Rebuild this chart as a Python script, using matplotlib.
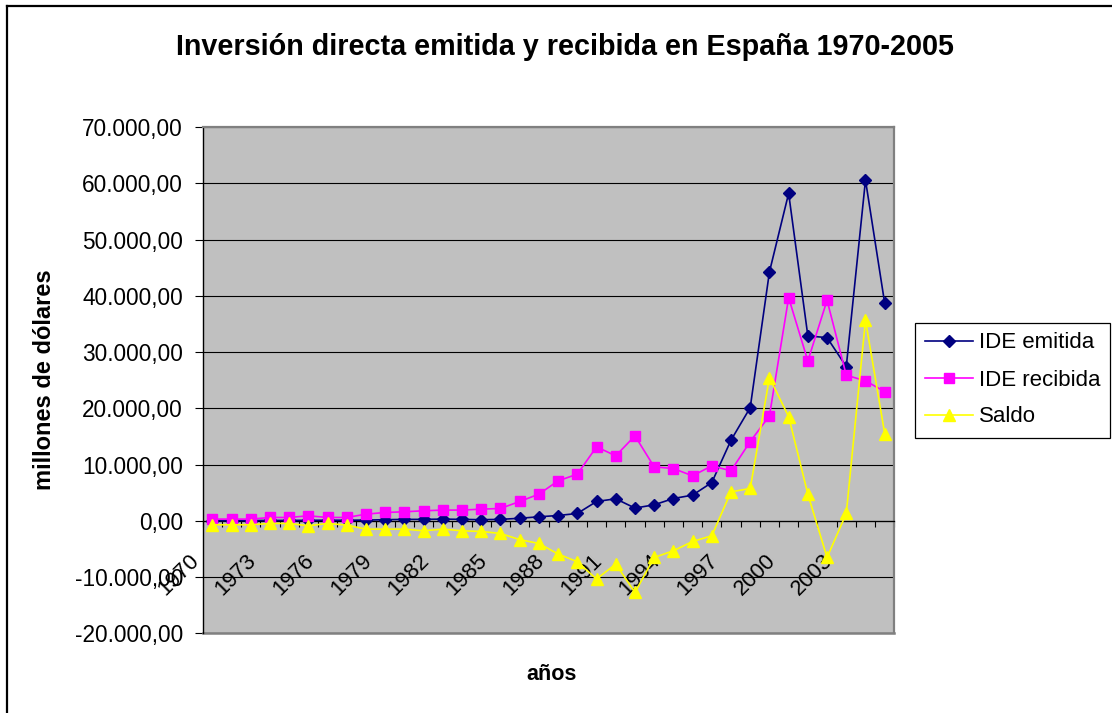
import matplotlib
matplotlib.use("Agg")
import matplotlib.pyplot as plt
import numpy as np
from matplotlib.transforms import ScaledTranslation
from matplotlib.lines import Line2D

plt.rcParams['font.family'] = ['Liberation Sans', 'DejaVu Sans']

years = list(range(1970, 2006))
ide_emitida = [30, 40, 50, 60, 70, 80, 100, 100, 120, 200,
               250, 250, 300, 250, 200, 250, 450, 710, 940, 1300,
               3430, 3910, 2260, 2840, 3960, 4560, 6800, 14330, 20120, 44230,
               58210, 32860, 32560, 27410, 60570, 38670]
ide_recibida = [300, 300, 300, 590, 590, 890, 590, 590, 1180, 1480,
                1600, 1780, 1900, 1900, 2070, 2190, 3430, 4740, 7100, 8290,
                13140, 11550, 15100, 9590, 9290, 7990, 9770, 8880, 14090, 18650,
                39660, 28420, 39200, 25880, 24870, 22970]
saldo = [-710, -710, -710, -470, -470, -890, -470, -770, -1480, -1480,
         -1480, -1780, -1480, -1780, -1900, -2250, -3350, -4030, -5910, -7280,
         -10360, -7690, -12740, -6520, -5330, -3680, -2660, 5150, 5740, 25450,
         18530, 4740, -6520, 1300, 35650, 15510]
tick_years = years[::3]
series_names = ["IDE emitida", "IDE recibida", "Saldo"]
y_ticks = list(range(-20000, 70001, 10000))

W, H = 1112, 713
fig = plt.figure(figsize=(W / 100, H / 100), dpi=100)
fig.patch.set_facecolor('white')

# outer chart border
fig.add_artist(Line2D([7 / W, 1.0], [1 - 6 / H, 1 - 6 / H], color='black', lw=1.6))
fig.add_artist(Line2D([7 / W, 7 / W], [1 - 6 / H, 0.0], color='black', lw=1.6))

left, right, top, bottom = 202.7, 894.3, 127.0, 633.3
ax = fig.add_axes([left / W, 1 - bottom / H, (right - left) / W, (bottom - top) / H])
ax.set_facecolor('#C0C0C0')

# spines first (set_position resets ticks)
ax.spines['bottom'].set_position(('data', 0))
ax.spines['bottom'].set_color('black')
ax.spines['bottom'].set_linewidth(0.9)
ax.spines['left'].set_color('black')
ax.spines['left'].set_linewidth(1.0)
for s in ['top', 'right']:
    ax.spines[s].set_color('#808080')
    ax.spines[s].set_linewidth(1.6)
ax.add_artist(Line2D([0, 1], [0, 0], transform=ax.transAxes, color='#808080', lw=1.8, clip_on=False))

x = np.arange(len(years))
ax.plot(x, ide_emitida, color='#000080', lw=1.2, marker='D', ms=6.2,
        mfc='#000080', mec='#000080', label=series_names[0], zorder=3)
ax.plot(x, ide_recibida, color='#FF00FF', lw=1.2, marker='s', ms=7.4,
        mfc='#FF00FF', mec='#FF00FF', label=series_names[1], zorder=3)
ax.plot(x, saldo, color='#FFFF00', lw=1.2, marker='^', ms=8.8,
        mfc='#FFFF00', mec='#FFFF00', label=series_names[2], zorder=3)

ax.set_xlim(-0.5, len(years) - 0.5)
ax.set_ylim(-20000, 70000)
ax.set_yticks(y_ticks)

def fmt(v):
    s = f"{v:,.2f}"
    return s.replace(',', 'X').replace('.', ',').replace('X', '.')

ax.set_yticklabels([fmt(v) for v in y_ticks], fontsize=16.3)
ax.yaxis.grid(True, color='black', lw=0.8)
ax.set_axisbelow(True)
ax.tick_params(axis='y', direction='out', length=5.8, width=0.8, pad=8.4, color='black')

ax.set_xticks([years.index(yv) for yv in tick_years])
ax.set_xticks(np.arange(-0.5, len(years), 1.0), minor=True)
ax.tick_params(axis='x', which='major', length=0, pad=21)
ax.tick_params(axis='x', which='minor', direction='out', length=4.3, width=0.8, color='black')
ax.set_xticklabels([str(yv) for yv in tick_years], fontsize=15.8, rotation=45,
                   ha='right', va='top')
off = ScaledTranslation(-0.09, 0, fig.dpi_scale_trans)
for lab in ax.get_xticklabels():
    lab.set_transform(lab.get_transform() + off)
    lab.set_zorder(5)

fig.text(565 / W, 1 - 47 / H, "Inversión directa emitida y recibida en España 1970-2005",
         ha='center', va='center', fontsize=20.7, fontweight='bold')
fig.text(45 / W, 1 - 380 / H, "millones de dólares", ha='center', va='center',
         rotation=90, fontsize=17, fontweight='bold')
fig.text(552 / W, 1 - 675 / H, "años", ha='center', va='center',
         fontsize=15.5, fontweight='bold')

leg = ax.legend(loc='center', bbox_to_anchor=(1012.5 / W, 1 - 380 / H),
                bbox_transform=fig.transFigure, fontsize=16, frameon=True,
                fancybox=False, edgecolor='black', facecolor='white', framealpha=1,
                handlelength=2.2, handletextpad=0.25, borderpad=0.45, labelspacing=0.72,
                borderaxespad=0)
leg.get_frame().set_linewidth(0.9)

fig.savefig("out.png", dpi=100)
